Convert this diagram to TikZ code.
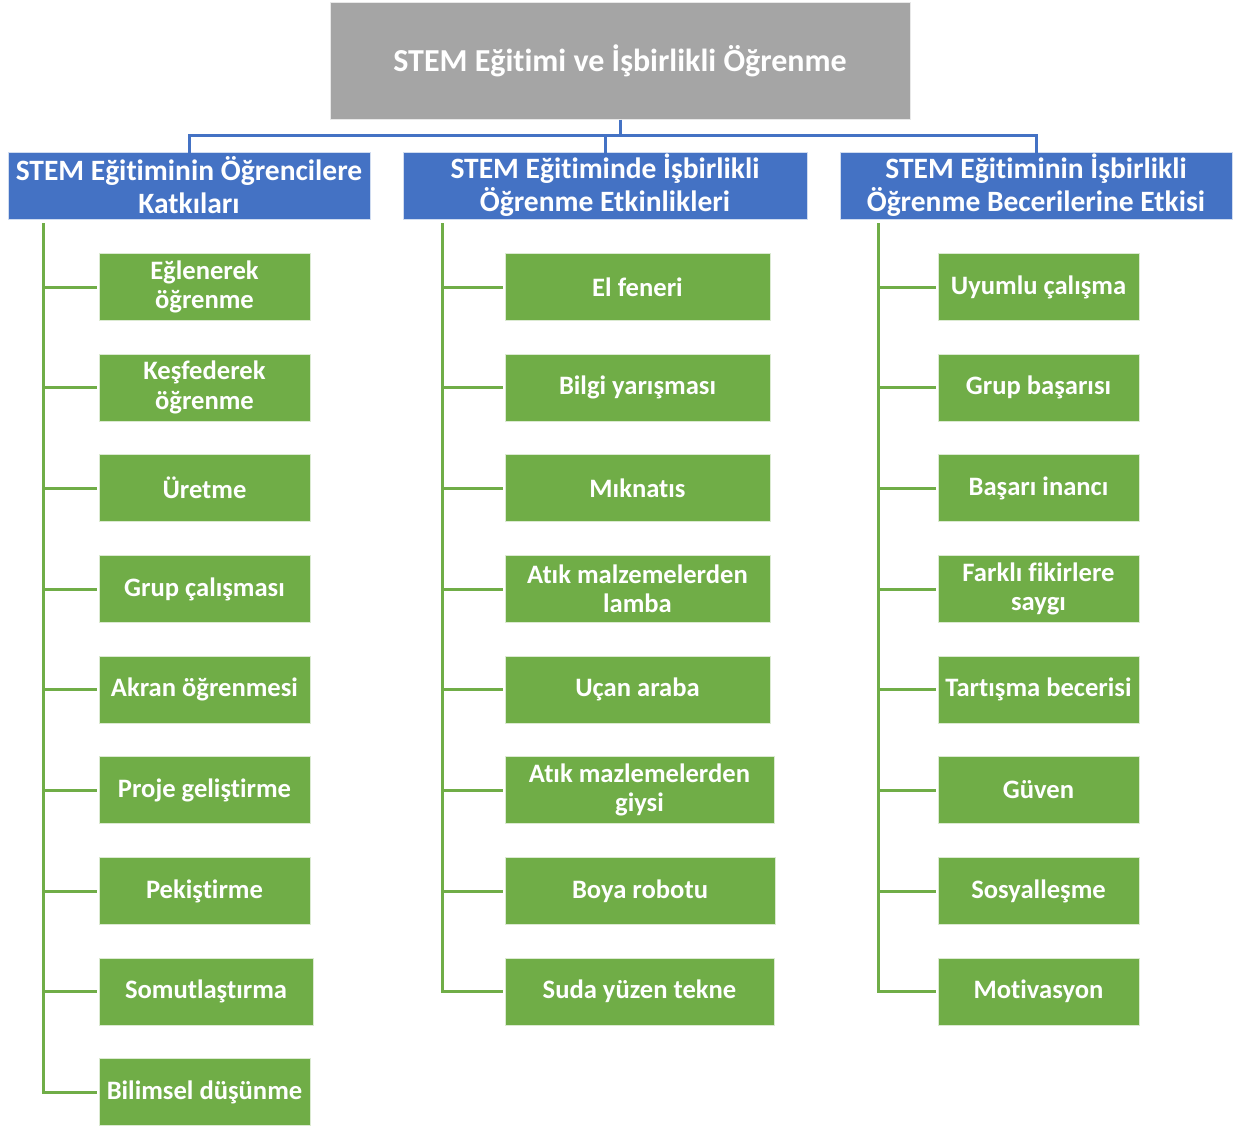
\documentclass[tikz,border=0pt]{standalone}
\usepackage{fontspec}
\setmainfont[Ligatures={NoCommon}]{Carlito}
\definecolor{rootgray}{HTML}{A5A5A5}
\definecolor{hblue}{HTML}{4472C4}
\definecolor{lgreen}{HTML}{70AD47}
\begin{document}
\begin{tikzpicture}[x=1pt,y=-1pt,
  rootbox/.style={fill=rootgray, draw=white!75!rootgray, line width=1pt, minimum width=580pt, minimum height=117pt, inner sep=0pt, text=white, align=center, font=\bfseries\fontsize{32}{36}\selectfont},
  headbox/.style={fill=hblue, draw=white!75!hblue, line width=1pt, minimum height=67pt, inner sep=0pt, text=white, align=center, font=\bfseries\fontsize{29.5}{33}\selectfont},
  leafbox/.style={fill=lgreen, draw=white!75!lgreen, line width=1pt, minimum height=67pt, inner sep=0pt, text=white, align=center, font=\bfseries\fontsize{26.6}{29.5}\selectfont},
  bline/.style={draw=hblue, line width=3pt},
  gline/.style={draw=lgreen, line width=3pt}]
\useasboundingbox (0,0) rectangle (1235,1128);
\node[rootbox] (root) at (620,60.5) {STEM Eğitimi ve İşbirlikli Öğrenme};
\node[headbox, minimum width=362pt] (h1) at (189,185.5) {STEM Eğitiminin Öğrencilere\\Katkıları};
\node[headbox, minimum width=404pt] (h2) at (605,185.5) {STEM Eğitiminde İşbirlikli\\Öğrenme Etkinlikleri};
\node[headbox, minimum width=392pt] (h3) at (1036,185.5) {STEM Eğitiminin İşbirlikli\\Öğrenme Becerilerine Etkisi};
\coordinate (bus) at (620,135);
\draw[bline] (root.south) -- (bus);
\draw[bline] (bus) -| ([yshift=-2pt]h1.north);
\draw[bline] (bus) -| ([yshift=-2pt]h2.north);
\draw[bline] (bus) -| ([yshift=-2pt]h3.north);
% column 1
\node[leafbox, minimum width=211pt] (a1) at (204.5,287) {Eğlenerek\\öğrenme};
\node[leafbox, minimum width=211pt] (a2) at (204.5,387.5) {Keşfederek\\öğrenme};
\node[leafbox, minimum width=211pt] (a3) at (204.5,488) {Üretme};
\node[leafbox, minimum width=211pt] (a4) at (204.5,589) {Grup çalışması};
\node[leafbox, minimum width=211pt] (a5) at (204.5,689.5) {Akran öğrenmesi};
\node[leafbox, minimum width=211pt] (a6) at (204.5,790) {Proje geliştirme};
\node[leafbox, minimum width=211pt] (a7) at (204.5,891) {Pekiştirme};
\node[leafbox, minimum width=214pt] (a8) at (206,991.5) {Somutlaştırma};
\node[leafbox, minimum width=211pt] (a9) at (204.5,1092) {Bilimsel düşünme};
% column 2
\node[leafbox, minimum width=265pt] (b1) at (637.5,287) {El feneri};
\node[leafbox, minimum width=265pt] (b2) at (637.5,387.5) {Bilgi yarışması};
\node[leafbox, minimum width=265pt] (b3) at (637.5,488) {Mıknatıs};
\node[leafbox, minimum width=265pt] (b4) at (637.5,589) {Atık malzemelerden\\lamba};
\node[leafbox, minimum width=265pt] (b5) at (637.5,689.5) {Uçan araba};
\node[leafbox, minimum width=269pt] (b6) at (639.5,790) {Atık mazlemelerden\\giysi};
\node[leafbox, minimum width=270pt] (b7) at (640,891) {Boya robotu};
\node[leafbox, minimum width=269pt] (b8) at (639.5,991.5) {Suda yüzen tekne};
% column 3
\node[leafbox, minimum width=201pt] (c1) at (1038.5,287) {Uyumlu çalışma};
\node[leafbox, minimum width=201pt] (c2) at (1038.5,387.5) {Grup başarısı};
\node[leafbox, minimum width=201pt] (c3) at (1038.5,488) {Başarı inancı};
\node[leafbox, minimum width=201pt] (c4) at (1038.5,589) {Farklı fikirlere\\saygı};
\node[leafbox, minimum width=201pt] (c5) at (1038.5,689.5) {Tartışma becerisi};
\node[leafbox, minimum width=201pt] (c6) at (1038.5,790) {Güven};
\node[leafbox, minimum width=201pt] (c7) at (1038.5,891) {Sosyalleşme};
\node[leafbox, minimum width=201pt] (c8) at (1038.5,991.5) {Motivasyon};
% trunks
\coordinate (ta) at (43,223);
\coordinate (tb) at (442,223);
\coordinate (tc) at (878,223);
\foreach \n in {a1,a2,a3,a4,a5,a6,a7,a8,a9}
  \draw[gline] (ta) |- ([xshift=-2pt]\n.west);
\foreach \n in {b1,b2,b3,b4,b5,b6,b7,b8}
  \draw[gline] (tb) |- ([xshift=-2pt]\n.west);
\foreach \n in {c1,c2,c3,c4,c5,c6,c7,c8}
  \draw[gline] (tc) |- ([xshift=-2pt]\n.west);
\end{tikzpicture}
\end{document}
